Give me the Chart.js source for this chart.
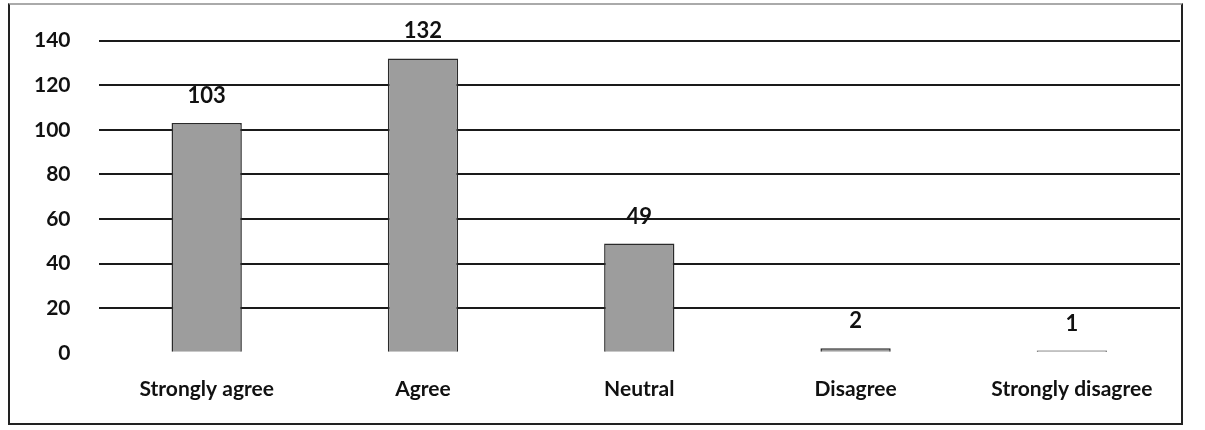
<!DOCTYPE html>
<html>
<head>
<meta charset="utf-8">
<script src="https://cdn.jsdelivr.net/npm/chart.js@4"></script>
<style>
  body { margin: 0; background: #fff; }
  #wrap { position: relative; width: 1205px; height: 430px; }
  #frame { position: absolute; left: 8px; top: 3px; width: 1175px; height: 422px; border: 2px solid #222; border-top-color: #aaa; box-sizing: border-box; }
  canvas { position: absolute; left: 0; top: 0; }
</style>
</head>
<body>
<div id="wrap">
  <div id="frame"></div>
  <canvas id="chart" width="1205" height="430"></canvas>
</div>
<script>
const categories = ["Strongly agree", "Agree", "Neutral", "Disagree", "Strongly disagree"];
const counts = [103, 132, 49, 2, 1];
const yTicks = [0, 20, 40, 60, 80, 100, 120, 140];

// value labels above each bar
const valueLabels = {
    id: 'valueLabels',
    afterDatasetsDraw(chart) {
        const ctx = chart.ctx;
        const meta = chart.getDatasetMeta(0);
        ctx.save();
        ctx.font = "bold 22px Lato";
        ctx.fillStyle = "#111";
        ctx.textAlign = "center";
        ctx.textBaseline = "alphabetic";
        meta.data.forEach((bar, i) => {
            ctx.fillText(counts[i], bar.x, bar.y - 20);
        });
        ctx.restore();
    }
};

new Chart(document.getElementById('chart').getContext('2d'), {
    type: 'bar',
    data: {
        labels: categories,
        datasets: [{
            data: counts,
            backgroundColor: '#9d9d9d',
            borderColor: '#2a2a2a',
            borderWidth: 1.5,
            barPercentage: 0.65,
            categoryPercentage: 0.5
        }]
    },
    options: {
        responsive: false,
        animation: false,
        layout: { padding: { top: 24, right: 25, bottom: 12, left: 6 } },
        plugins: { legend: { display: false }, tooltip: { enabled: false } },
        scales: {
            y: {
                min: 0, max: 140,
                afterBuildTicks: axis => { axis.ticks = yTicks.map(v => ({ value: v })); },
                border: { display: false },
                grid: {
                    drawTicks: false,
                    lineWidth: 2,
                    color: c => c.tick.value === 0 ? 'rgba(0,0,0,0)' : '#1a1a1a'
                },
                ticks: { padding: 28, color: '#111', font: { family: 'Lato', weight: 'bold', size: 21 } }
            },
            x: {
                border: { display: false },
                grid: { display: false },
                ticks: { padding: 16, color: '#111', font: { family: 'Lato', weight: 'bold', size: 21 } }
            }
        }
    },
    plugins: [valueLabels]
});
</script>
</body>
</html>
